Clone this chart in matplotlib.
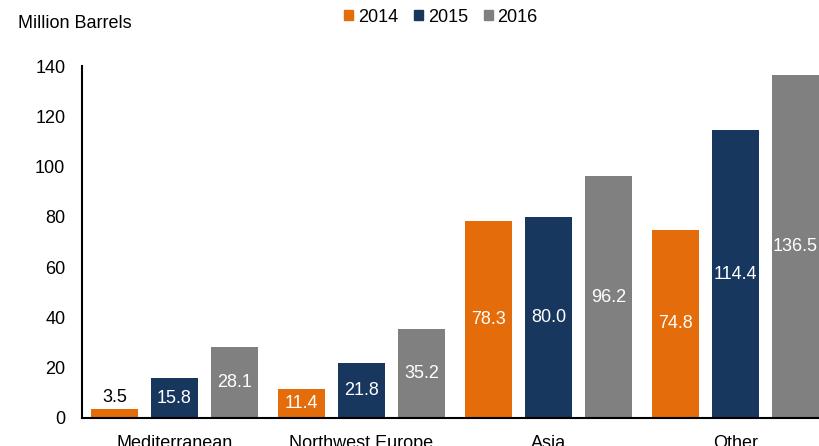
import matplotlib.pyplot as plt
from matplotlib.patches import Patch
import numpy as np

plt.rcParams['font.family'] = ['Liberation Sans', 'DejaVu Sans']

regions = ["Mediterranean", "Northwest Europe", "Asia", "Other"]
years = ["2014", "2015", "2016"]
vals_2014 = [3.5, 11.4, 78.3, 74.8]
vals_2015 = [15.8, 21.8, 80.0, 114.4]
vals_2016 = [28.1, 35.2, 96.2, 136.5]
yticks = [0, 20, 40, 60, 80, 100, 120, 140]

colors = ["#E46C0A", "#17375E", "#808080"]

fig = plt.figure(figsize=(8.19, 4.46), dpi=100)
ax = fig.add_axes([82 / 819, 28 / 446, 737 / 819, 352 / 446])

x = np.arange(len(regions))
width = 0.251
step = 0.321

for k, (vals, col) in enumerate(zip([vals_2014, vals_2015, vals_2016], colors)):
    pos = x + (k - 1) * step
    ax.bar(pos, vals, width=width, color=col)
    for px, v in zip(pos, vals):
        if v < 5:
            # too small to hold the label, put it above the bar
            ax.annotate(f"{v:.1f}", (px, v), xytext=(0, 2), textcoords="offset points",
                        ha="center", va="bottom", fontsize=13, color="black")
        else:
            ax.text(px, v / 2, f"{v:.1f}", ha="center", va="center",
                    fontsize=13, color="white")

ax.set_xlim(-0.495, 3.447)
ax.set_ylim(0, 140)
ax.set_yticks(yticks)
ax.set_xticks(x)
ax.set_xticklabels(regions)
ax.tick_params(axis="y", length=0, pad=12, labelsize=13)
ax.tick_params(axis="x", length=0, pad=12.5, labelsize=13)

for side in ["top", "right"]:
    ax.spines[side].set_visible(False)
for side in ["left", "bottom"]:
    ax.spines[side].set_linewidth(1.5)
    ax.spines[side].set_color("black")

fig.text(18 / 819, 1 - 24 / 446, "Million Barrels", fontsize=13, ha="left", va="center")

handles = [Patch(color=c, label=y) for c, y in zip(colors, years)]
fig.legend(handles=handles, loc="center", bbox_to_anchor=(441 / 819, 1 - 17 / 446),
           ncol=3, frameon=False, fontsize=13, handlelength=0.5, handleheight=0.5,
           handletextpad=0.25, columnspacing=0.9, borderpad=0)

fig.savefig("out.png", dpi=100)
